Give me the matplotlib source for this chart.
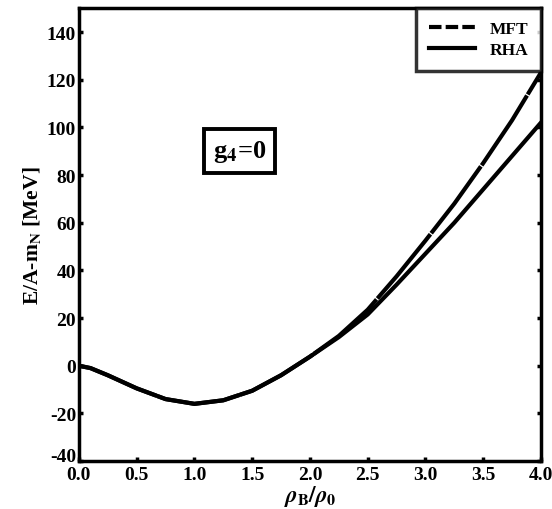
import matplotlib
matplotlib.use("Agg")
import matplotlib.pyplot as plt
from matplotlib.transforms import ScaledTranslation

# --- data ---
rho = [0.0, 0.1, 0.25, 0.5, 0.75, 1.0, 1.25, 1.5, 1.75, 2.0, 2.25, 2.5, 2.75, 3.0, 3.25, 3.5, 3.75, 4.0]
e_mft = [0.0, -1.0, -4.0, -9.5, -14.0, -16.0, -14.5, -10.5, -4.0, 3.8, 12.5, 23.5, 37.5, 52.5, 68.0, 85.0, 103.0, 123.0]
e_rha = [0.0, -1.0, -4.0, -9.5, -14.0, -16.0, -14.5, -10.5, -4.0, 3.8, 12.0, 21.5, 34.0, 47.0, 60.0, 74.0, 88.0, 102.0]

xticks = [0.0, 0.5, 1.0, 1.5, 2.0, 2.5, 3.0, 3.5, 4.0]
yticks = [-40, -20, 0, 20, 40, 60, 80, 100, 120, 140]

plt.rcParams['font.family'] = ['Liberation Serif', 'DejaVu Serif']
plt.rcParams['font.weight'] = 'bold'
plt.rcParams['mathtext.fontset'] = 'stix'
plt.rcParams['axes.unicode_minus'] = False

fig = plt.figure(figsize=(5.52, 5.10), dpi=100)
ax = fig.add_axes([0.143, 0.094, 0.837, 0.888])

# MFT drawn with tiny gaps: looks nearly solid in the reference
ax.plot(rho, e_mft, color='black', lw=3.0, ls=(0, (20, 0.3)), label='MFT',
        solid_joinstyle='round', dash_joinstyle='round')
ax.plot(rho, e_rha, color='black', lw=3.0, label='RHA', solid_joinstyle='round')

ax.set_xlim(0, 4)
ax.set_ylim(-40, 150)
ax.set_xticks(xticks)
ax.set_xticklabels([f"{t:.1f}" for t in xticks])
ax.set_yticks(yticks)
ax.tick_params(direction='in', length=3, width=2.5, labelsize=14, pad=2,
               right=True, top=False)
ax.tick_params(axis='x', pad=3.5)
for s in ax.spines.values():
    s.set_linewidth(2.5)

# lift the bottom y label a bit so it sits clear of "0.0"
lab = ax.get_yticklabels()[0]
lab.set_transform(lab.get_transform() + ScaledTranslation(0, 5 / 72, fig.dpi_scale_trans))

ax.set_xlabel(r'$\rho_{\mathbf{B}}/\rho_{\mathbf{0}}$', fontsize=16.5, labelpad=0)
ax.set_ylabel(r'E/A-m$_{\mathbf{N}}$ [MeV]', fontsize=15.5, fontweight='bold', labelpad=3)

ax.text(1.39, 90, r'g$_{\mathbf{4}}$=0', fontsize=19, fontweight='bold',
        ha='center', va='center',
        bbox=dict(boxstyle='square,pad=0.35', fc='white', ec='black', lw=2.8))

leg = ax.legend(loc='upper right', fontsize=12.5, frameon=True, fancybox=False,
                handlelength=2.7, borderaxespad=0.0, borderpad=0.75,
                labelspacing=0.25, handletextpad=0.8)
leg.get_frame().set_edgecolor('black')
leg.get_frame().set_linewidth(2.5)
leg.get_lines()[0].set_linestyle((0, (3, 1)))
for t in leg.get_texts():
    t.set_fontweight('bold')

fig.savefig("out.png", dpi=100)
